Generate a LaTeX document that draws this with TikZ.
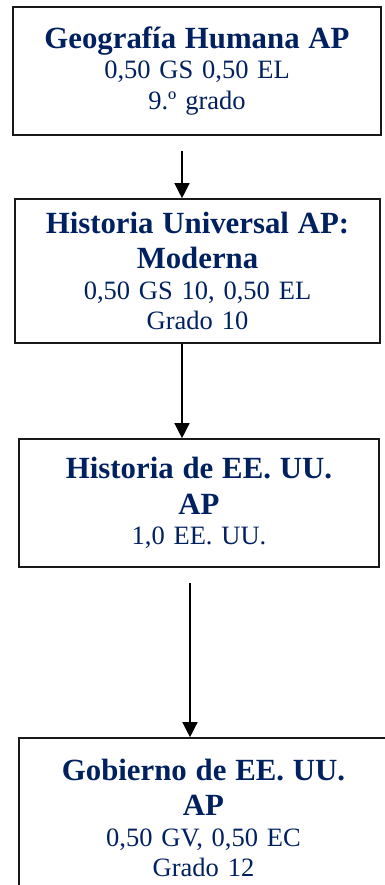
\documentclass[tikz,border=0pt]{standalone}
\usepackage{fontspec}
\setmainfont{Liberation Serif}
\usetikzlibrary{arrows.meta,calc}
\definecolor{apnavy}{RGB}{0,32,96}
\newcommand{\apTitle}{\fontsize{30.8}{35.4}\selectfont\bfseries}
\newcommand{\apBody}{\fontsize{26.5}{30.4}\selectfont}
\tikzset{
	course/.style={draw=black!90, line width=1.6pt, rectangle, inner sep=0pt, align=center, text=apnavy, font=\apBody},
	flow/.style={line width=1.3pt, -{Triangle[width=15pt,length=15pt]}}
}

\begin{document}
\begin{tikzpicture}[x=1pt, y=-1pt]
			%%%%% START %%%%%
			\useasboundingbox (0, 0) rectangle (384, 885);
			
			\node[course, text width=368pt, minimum height=128pt] (geo) at (197, 71)
				{{\apTitle Geografía Humana AP\par}0,50 GS 0,50 EL\\9.º grado};
			
			\node[course, text width=365pt, minimum height=144pt] (uni) at (197.5, 271)
				{{\apTitle Historia Universal AP:\\Moderna\par}0,50 GS 10, 0,50 EL\\Grado 10};
			
			\node[course, text width=360pt, minimum height=128pt] (usa) at (199, 503)
				{{\apTitle Historia de EE. UU.\\AP\par}1,0 EE. UU.};
			
			\node[course, text width=369pt, minimum height=160pt] (gov) at (203.5, 818)
				{{\apTitle Gobierno de EE. UU.\\AP\par}0,50 GV, 0,50 EC\\Grado 12};
			
			\coordinate (a1) at (182, 151);
			\coordinate (a3) at (190, 583);
			
			\draw[flow] (a1) -- (a1 |- uni.north);
			\draw[flow] (uni.south -| a1) -- (a1 |- usa.north);
			\draw[flow] (a3) -- (a3 |- gov.north);
			
			%%%%% END %%%%%
\end{tikzpicture}
\end{document}
